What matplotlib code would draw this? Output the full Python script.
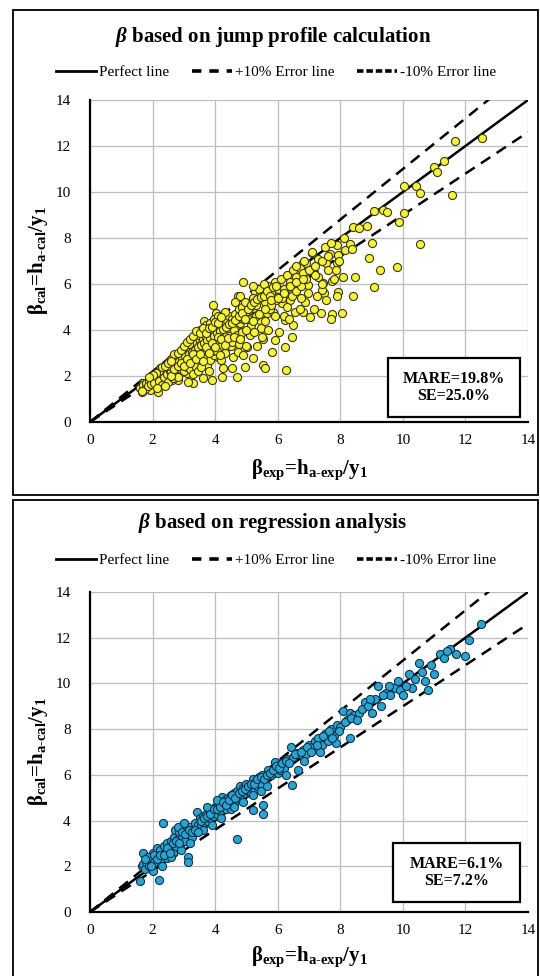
import matplotlib
matplotlib.use('Agg')
import matplotlib.pyplot as plt
from matplotlib.patches import Rectangle
import numpy as np

# ---------------------------------------------------------------------------
# data
# jump profile calculation (yellow)
beta_exp_jump = [12.52, 11.66, 11.31, 10.99, 11.08, 11.56, 10.04, 10.42, 10.55, 10.04,
                 9.89, 10.55, 9.08, 9.35, 9.50, 8.84, 8.42, 8.59, 9.00, 8.12,
                 8.31, 8.15, 8.38, 7.88, 7.67, 7.92, 7.54, 7.88, 7.86, 8.92,
                 9.27, 9.80, 8.08, 8.47, 9.08, 8.42, 7.92, 7.75, 7.46, 7.30,
                 8.04, 7.75, 7.37, 7.03, 6.82, 7.08, 6.82, 6.80, 6.98, 6.97,
                 6.87, 7.48, 7.40, 6.75,
                 4.88, 3.92, 4.03, 3.64, 5.27, 5.43, 4.74, 5.65, 5.86, 6.28,
                 6.50, 6.13, 6.39, 5.01, 5.22, 4.90, 5.17, 5.43, 5.65, 5.86,
                 6.23, 6.55, 5.54, 5.81, 6.23, 6.45, 5.91, 5.54, 5.59, 6.28,
                 4.69, 4.95, 4.53, 4.21, 3.89, 4.26, 3.62, 5.22, 5.01, 4.58,
                 4.10, 3.73, 3.30, 3.14, 2.82, 2.61, 2.40, 2.18, 1.92, 1.65,
                 1.70, 2.02, 2.24, 2.45, 2.72, 2.93, 3.09, 3.20, 3.41, 3.25,
                 3.52, 3.14, 2.88, 2.66, 2.98, 3.73, 3.94, 3.84, 4.15, 4.37,
                 4.53, 4.79, 5.11, 4.69, 4.42, 4.15, 4.37, 4.15, 4.74, 3.52,
                 3.36,
                 1.60, 1.70, 1.80, 1.90, 1.75, 2.00, 1.85, 1.95, 2.05, 1.65,
                 2.10, 2.20, 2.30, 2.40, 2.20, 2.35, 2.50, 2.45, 2.30, 2.15,
                 2.50, 2.40, 2.25, 2.55,
                 2.60, 2.70, 2.80, 2.90, 2.60, 2.75, 2.85, 2.95, 3.00, 2.65,
                 2.80, 2.90, 3.00, 2.70, 2.95, 2.60,
                 3.05, 3.10, 3.20, 3.30, 3.40, 3.15, 3.25, 3.35, 3.45, 3.50,
                 3.10, 3.20, 3.30, 3.40, 3.50, 3.35, 3.45, 3.25, 3.15, 3.50,
                 3.30, 3.45, 3.05,
                 3.60, 3.70, 3.80, 3.90, 3.60, 3.70, 3.80, 3.90, 4.00, 3.65,
                 3.75, 3.85, 3.95, 3.60, 3.70, 3.85, 3.95, 3.55, 3.80, 3.65,
                 3.75, 3.90, 4.00,
                 4.05, 4.15, 4.25, 4.35, 4.45, 4.10, 4.20, 4.30, 4.40, 4.50,
                 4.05, 4.20, 4.35, 4.45, 4.10, 4.30, 4.40, 4.25, 4.50, 4.15,
                 4.55, 4.65, 4.75, 4.85, 4.95, 4.60, 4.70, 4.80, 4.90, 5.00,
                 4.55, 4.75, 4.85, 4.65, 4.80, 4.90, 5.00, 4.70,
                 5.10, 5.20, 5.30, 5.40, 5.50, 5.60, 5.70, 5.80, 5.90, 6.00,
                 5.15, 5.30, 5.45, 5.60, 5.75, 5.90, 5.25, 5.50, 5.35, 5.70,
                 5.95, 5.05, 5.20, 5.55, 5.80,
                 6.10, 6.20, 6.30, 6.40, 6.50, 6.60, 6.70, 6.80, 6.90, 6.15,
                 6.30, 6.45, 6.60, 6.75, 6.90, 6.20, 6.50, 6.35, 6.70, 6.05,
                 6.60, 6.85,
                 7.10, 7.30, 7.50, 7.20, 7.40, 7.60, 7.70, 7.80, 7.95, 7.25,
                 7.55, 7.90, 7.15, 7.70]
beta_cal_jump = [12.33, 12.23, 11.35, 11.07, 10.86, 9.87, 10.26, 10.26, 9.94, 9.07,
                 8.68, 7.74, 9.16, 9.22, 9.14, 8.52, 8.46, 8.45, 7.80, 8.01,
                 7.74, 7.48, 7.51, 7.68, 7.30, 7.27, 6.93, 6.93, 6.61, 7.14,
                 6.61, 6.75, 6.32, 6.29, 5.88, 5.48, 5.65, 6.12, 6.03, 6.29,
                 4.75, 4.70, 4.75, 4.58, 4.80, 7.33, 6.90, 6.53, 5.96, 5.60,
                 5.23, 5.59, 5.75, 5.40,
                 6.09, 5.09, 4.72, 4.39, 5.67, 5.52, 5.48, 5.33, 5.74, 5.77,
                 5.88, 5.16, 5.30, 5.19, 4.94, 4.72, 4.51, 4.43, 4.72, 4.80,
                 4.43, 4.80, 3.59, 3.06, 3.27, 3.68, 3.57, 2.48, 2.33, 2.26,
                 1.97, 2.40, 2.33, 1.97, 1.83, 2.33, 1.90, 2.77, 3.27, 2.84,
                 2.84, 2.70, 1.68, 1.75, 1.83, 1.83, 1.61, 1.32, 1.39, 1.32,
                 1.68, 1.75, 1.90, 2.04, 2.12, 2.26, 2.12, 2.55, 2.84, 3.13,
                 3.27, 3.35, 2.70, 2.55, 2.91, 3.57, 3.86, 4.14, 4.07, 3.93,
                 3.64, 3.71, 3.78, 4.22, 4.36, 3.57, 3.27, 3.13, 3.06, 4.00,
                 3.78,
                 1.50, 1.60, 1.70, 1.80, 1.45, 1.90, 1.55, 1.65, 1.70, 1.35,
                 2.00, 2.10, 2.20, 2.30, 1.80, 1.95, 2.40, 2.10, 1.60, 1.50,
                 1.75, 1.55, 2.35, 2.20,
                 2.50, 2.60, 2.70, 2.80, 2.20, 2.35, 2.10, 2.50, 2.90, 1.90,
                 1.95, 2.30, 2.20, 2.85, 3.05, 2.00,
                 3.00, 3.20, 3.10, 3.30, 3.40, 2.70, 2.90, 2.60, 3.00, 3.50,
                 2.40, 2.30, 2.10, 2.40, 2.70, 3.60, 3.80, 3.50, 3.40, 3.20,
                 2.75, 2.20, 2.60,
                 3.60, 3.70, 3.80, 3.90, 3.20, 3.00, 3.40, 3.30, 3.60, 2.80,
                 2.50, 2.70, 2.90, 4.00, 4.20, 4.30, 4.50, 2.40, 2.20, 3.90,
                 3.50, 3.10, 4.10,
                 4.00, 4.20, 4.40, 4.50, 4.60, 3.50, 3.30, 3.00, 3.90, 4.20,
                 3.10, 2.70, 3.40, 3.60, 4.60, 4.80, 4.10, 3.80, 3.30, 2.90,
                 4.50, 4.70, 4.90, 5.00, 5.20, 4.00, 3.80, 4.30, 4.50, 4.80,
                 3.50, 3.40, 3.90, 5.20, 5.50, 2.90, 3.30, 4.50,
                 5.00, 5.40, 5.10, 5.80, 5.50, 5.20, 5.90, 5.60, 6.10, 5.80,
                 4.20, 4.60, 4.10, 4.40, 4.90, 4.60, 3.90, 3.70, 3.30, 4.00,
                 5.30, 4.50, 5.90, 6.00, 5.10,
                 6.20, 5.80, 6.40, 6.10, 6.60, 6.30, 6.70, 6.50, 6.90, 5.40,
                 5.00, 5.50, 5.70, 5.90, 6.20, 4.60, 4.20, 4.50, 4.90, 3.90,
                 6.80, 7.00,
                 7.40, 7.10, 7.60, 6.40, 6.00, 6.60, 7.80, 6.20, 7.00, 5.50,
                 5.30, 5.50, 4.90, 4.50]

# the packed part of the yellow cloud, near the perfect line
beta_exp_jump_dense = [2.55, 2.65, 2.75, 2.85, 2.95, 3.05, 3.15, 3.25, 3.35, 3.45,
                       3.55, 3.65, 3.75, 3.85, 3.95, 4.05, 4.15, 4.25, 4.35, 4.45,
                       2.60, 2.70, 2.80, 2.90, 3.00, 3.10, 3.20, 3.30, 3.40, 3.50,
                       3.60, 3.70, 3.80, 3.90, 4.00, 4.10, 4.20,
                       2.70, 2.80, 2.90, 3.00, 3.10, 3.20, 3.30, 3.40, 3.50, 3.60,
                       3.70, 3.80, 3.90, 4.00, 4.10, 4.20, 4.30, 4.40,
                       2.20, 2.30, 2.40, 2.50, 2.10, 2.00, 1.90, 2.60,
                       4.55, 4.65, 4.75, 4.85, 4.95, 5.05, 5.15, 5.25, 5.35, 5.45,
                       5.55, 5.65, 5.75, 5.85, 5.95,
                       4.60, 4.80, 5.00, 5.20, 5.40, 5.60, 5.80, 6.00, 6.20, 6.40,
                       6.60, 6.80, 7.00, 7.20, 7.40, 7.60]
beta_cal_jump_dense = [2.45, 2.55, 2.45, 2.65, 2.75, 2.85, 2.95, 3.05, 3.15, 3.25,
                       3.35, 3.45, 3.55, 3.65, 3.75, 3.85, 3.95, 4.05, 4.15, 4.25,
                       2.75, 2.95, 3.00, 3.15, 3.30, 3.50, 3.60, 3.75, 3.95, 3.85,
                       4.10, 3.85, 4.10, 4.15, 4.35, 4.30, 4.55,
                       2.30, 2.45, 2.55, 2.45, 2.75, 2.55, 2.95, 2.75, 2.95, 2.65,
                       3.25, 3.00, 3.45, 3.25, 3.70, 3.60, 3.35, 3.65,
                       2.20, 2.40, 2.45, 2.55, 2.15, 2.05, 1.95, 2.65,
                       4.30, 4.45, 4.60, 4.75, 4.50, 4.90, 5.10, 5.20, 5.35, 5.45,
                       5.50, 5.70, 5.50, 5.85, 5.90,
                       3.70, 3.60, 4.00, 4.40, 4.70, 4.90, 5.30, 5.40, 5.60, 5.90,
                       6.10, 6.20, 6.60, 6.80, 7.00, 7.20]

# regression analysis (blue)
beta_exp_reg = [1.60, 1.65, 1.70, 1.75, 1.80, 1.85, 1.90, 1.95, 2.00, 2.05,
                2.10, 2.15, 2.20, 2.25, 2.30, 2.35, 2.40, 2.45, 2.50, 2.20,
                2.34, 1.70, 1.86, 2.00, 2.30, 2.45,
                2.55, 2.60, 2.65, 2.70, 2.72, 2.75, 2.80, 2.85, 2.90, 2.95,
                3.00, 3.05, 3.09, 3.10, 3.14, 3.14, 3.20, 3.25, 3.30, 3.35,
                3.41, 3.40, 3.45, 3.50, 2.60, 2.90, 3.20, 3.50, 2.80, 3.00,
                3.55, 3.60, 3.65, 3.70, 3.75, 3.80, 3.85, 3.90, 3.95, 4.00,
                4.05, 4.10, 4.15, 4.21, 4.25, 4.30, 4.35, 4.40, 4.45, 4.50,
                3.60, 3.90, 4.20, 4.50, 3.75, 4.05,
                4.55, 4.60, 4.65, 4.69, 4.70, 4.75, 4.79, 4.80, 4.85, 4.90,
                4.95, 5.00, 5.05, 5.10, 5.15, 5.22, 5.20, 5.25, 5.30, 5.35,
                5.40, 5.45, 5.50, 5.54, 5.54, 4.60, 4.90, 5.20, 5.45,
                5.60, 5.70, 5.80, 5.91, 5.90, 6.00, 6.07, 6.10, 6.20, 6.30,
                6.41, 6.45, 6.50, 6.61, 6.66, 6.70, 6.80, 6.90, 7.00, 5.65,
                6.25, 6.85,
                7.10, 7.20, 7.30, 7.40, 7.50, 7.60, 7.70, 7.80, 7.90, 8.00,
                8.10, 8.20, 8.30, 8.30, 8.45, 8.60, 8.70, 8.80, 8.90, 9.00,
                7.35, 7.85,
                9.10, 9.30, 9.45, 9.60, 9.75, 9.90, 10.00, 10.20, 10.30, 10.60,
                10.70, 10.80, 11.00, 11.20, 11.30, 11.50, 11.70, 12.00, 12.10, 12.50,
                9.20, 10.50,
                1.75, 1.95, 2.05, 2.15, 2.25, 2.35, 2.45, 2.55, 2.65, 2.75,
                2.85, 2.95, 3.05, 3.15, 3.25, 3.35, 3.45, 3.55, 3.65, 3.75,
                3.85, 3.95, 4.05, 4.15, 4.25, 4.35, 4.45, 4.55, 4.65, 4.75,
                4.85, 4.95, 5.05, 5.15, 5.25, 5.35, 5.45, 5.55, 5.65, 5.75,
                5.85, 5.95, 6.05, 6.15, 6.25, 6.35, 6.55, 6.75, 6.95, 7.05,
                7.25, 7.45, 7.65, 7.75, 7.95, 8.15, 8.35, 8.55, 8.95, 9.35,
                9.55, 9.85, 10.10, 10.40, 10.90, 11.40]
beta_cal_reg = [1.35, 2.00, 2.10, 1.90, 2.20, 2.40, 2.00, 2.30, 2.60, 2.20,
                2.50, 2.80, 2.40, 2.70, 2.30, 2.90, 2.60, 3.00, 2.70, 1.40,
                3.91, 2.59, 2.42, 1.80, 2.00, 2.35,
                2.90, 3.10, 2.60, 3.30, 3.59, 2.90, 3.20, 3.50, 3.00, 3.30,
                3.60, 3.10, 3.73, 3.40, 2.42, 2.20, 3.70, 3.30, 3.60, 3.90,
                4.39, 3.50, 3.80, 4.10, 2.40, 2.70, 3.00, 3.60, 3.70, 3.90,
                3.80, 4.20, 3.90, 4.30, 4.00, 4.50, 4.10, 4.40, 4.20, 4.60,
                4.30, 4.70, 4.40, 5.04, 4.60, 4.90, 4.50, 5.00, 4.70, 5.10,
                3.60, 3.80, 4.10, 4.50, 4.60, 4.90,
                4.90, 5.20, 4.80, 3.18, 5.30, 5.00, 5.26, 5.50, 5.10, 5.41,
                5.20, 5.60, 5.30, 5.50, 5.20, 4.46, 5.80, 5.40, 5.70, 5.50,
                5.90, 5.60, 6.00, 4.68, 4.29, 4.60, 4.80, 5.10, 5.30,
                5.80, 6.20, 6.00, 6.58, 6.30, 6.10, 6.21, 6.50, 6.30, 6.70,
                7.23, 5.56, 6.80, 6.94, 6.21, 6.90, 7.10, 6.90, 7.30, 5.50,
                6.00, 6.60,
                7.20, 7.50, 7.60, 7.30, 7.80, 7.50, 8.00, 7.70, 8.20, 8.10,
                8.80, 8.40, 8.70, 7.60, 8.60, 8.70, 8.90, 9.20, 9.00, 8.70,
                7.00, 7.40,
                9.30, 9.00, 9.60, 9.50, 9.80, 9.70, 9.50, 10.40, 9.80, 10.50,
                10.10, 9.70, 10.40, 11.30, 11.10, 11.50, 11.30, 11.20, 11.90, 12.60,
                9.90, 10.90,
                2.30, 2.00, 2.50, 2.30, 2.50, 2.50, 2.80, 2.60, 3.00, 3.10,
                3.00, 3.50, 3.40, 3.60, 3.50, 3.60, 3.50, 4.00, 4.10, 4.20,
                4.30, 4.50, 4.50, 4.60, 4.80, 4.70, 4.90, 5.10, 5.00, 5.20,
                5.30, 5.40, 5.50, 5.60, 5.60, 5.80, 5.90, 5.80, 6.00, 6.10,
                6.20, 6.40, 6.30, 6.50, 6.60, 6.50, 6.90, 7.00, 7.20, 7.00,
                7.30, 7.70, 7.90, 7.60, 7.90, 8.30, 8.50, 8.40, 9.30, 9.50,
                9.90, 10.10, 9.90, 10.20, 10.80, 11.40]

line_x = [0, 14]
ticks = [0, 2, 4, 6, 8, 10, 12, 14]

titles = [r'$\beta$ based on jump profile calculation', r'$\beta$ based on regression analysis']
stats = ['MARE=19.8%\nSE=25.0%', 'MARE=6.1%\nSE=7.2%']
xlabel = r'$\mathrm{\beta_{exp}}$=$\mathrm{h_{a\text{-}exp}/y_1}$'
ylabel = r'$\mathrm{\beta_{cal}}$=$\mathrm{h_{a\text{-}cal}/y_1}$'

# ---------------------------------------------------------------------------
plt.rcParams['font.family'] = 'Liberation Serif'
plt.rcParams['mathtext.fontset'] = 'custom'
plt.rcParams['mathtext.rm'] = 'Liberation Serif:bold'
plt.rcParams['mathtext.it'] = 'Liberation Serif:bold:italic'
plt.rcParams['mathtext.bf'] = 'Liberation Serif:bold'

W, H = 540, 976
fig = plt.figure(figsize=(5.4, 9.76), dpi=100)

def fx(px):
    return px / W

def fy(py):
    return 1 - py / H

panels = [
    dict(top=100, bot=422, frame=(10, 495), title_y=37, leg_y=72, xlab_y=470,
         x=beta_exp_jump + beta_exp_jump_dense, y=beta_cal_jump + beta_cal_jump_dense,
         face='#f7f23a', edge='#3a3a10', box=(388, 520, 358, 417)),
    dict(top=592, bot=912, frame=(500, 990), title_y=523, leg_y=560, xlab_y=957,
         x=beta_exp_reg, y=beta_cal_reg, face='#2ba3d3', edge='#0d3447',
         box=(393, 520, 843, 902)),
]

ax_l, ax_r = 90, 528

for i, p in enumerate(panels):
    # outer frame
    f0, f1 = p['frame']
    fig.patches.append(Rectangle((fx(13), fy(f1)), fx(538) - fx(13), (f1 - f0) / H,
                                 transform=fig.transFigure, fill=False,
                                 edgecolor='black', linewidth=1.3))

    ax = fig.add_axes([fx(ax_l), fy(p['bot']), fx(ax_r) - fx(ax_l),
                       (p['bot'] - p['top']) / H])
    ax.set_xlim(0, 14)
    ax.set_ylim(0, 14)
    ax.set_xticks(ticks)
    ax.set_yticks(ticks)
    ax.grid(True, color='#bdbdbd', linewidth=0.9)
    ax.set_axisbelow(True)
    for s in ['top', 'right']:
        ax.spines[s].set_visible(False)
    for s in ['left', 'bottom']:
        ax.spines[s].set_linewidth(1.6)
    ax.tick_params(length=0, labelsize=11, pad=9)
    ax.tick_params(axis='y', pad=14)

    ax.plot(line_x, line_x, color='black', lw=1.8, zorder=3)
    ax.plot(line_x, [v * 1.1 for v in line_x], color='black', lw=1.8,
            dashes=(4.5, 3.0), zorder=3)
    ax.plot(line_x, [v * 0.9 for v in line_x], color='black', lw=1.8,
            dashes=(4.5, 3.0), zorder=3)

    ax.scatter(p['x'], p['y'], s=34, c=p['face'], edgecolors=p['edge'],
               linewidths=0.8, zorder=4)

    # legend handles with the look of the original key
    h1, = ax.plot([], [], color='black', lw=2.0)
    h2, = ax.plot([], [], color='black', lw=2.6, dashes=(2.6, 2.2))
    h3, = ax.plot([], [], color='black', lw=2.6, dashes=(1.8, 0.8))
    fig.legend([h1, h2, h3], ['Perfect line', '+10% Error line', '-10% Error line'],
               loc='center', bbox_to_anchor=(fx(276), fy(p['leg_y'])), ncol=3,
               frameon=False, fontsize=11, handlelength=2.6, handletextpad=0.2,
               columnspacing=1.5)

    fig.text(fx(273), fy(p['title_y']), titles[i], ha='center', va='center',
             fontsize=15, fontweight='bold')

    fig.text(fx((ax_l + ax_r) / 2), fy(p['xlab_y']), xlabel, ha='center',
             va='center', fontsize=15, fontweight='bold')
    fig.text(fx(38), fy((p['top'] + p['bot']) / 2), ylabel, ha='center',
             va='center', fontsize=15, fontweight='bold', rotation=90)

    # stats box
    bx0, bx1, by0, by1 = p['box']
    ax.add_patch(Rectangle(((bx0 - ax_l) / (ax_r - ax_l), (p['bot'] - by1) / (p['bot'] - p['top'])),
                           (bx1 - bx0) / (ax_r - ax_l), (by1 - by0) / (p['bot'] - p['top']),
                           transform=ax.transAxes, facecolor='white',
                           edgecolor='black', linewidth=1.6, zorder=5))
    ax.text(((bx0 + bx1) / 2 - ax_l) / (ax_r - ax_l),
            (p['bot'] - (by0 + by1) / 2) / (p['bot'] - p['top']),
            stats[i], transform=ax.transAxes, ha='center', va='center',
            fontsize=11.5, fontweight='bold', linespacing=1.1, zorder=6)

plt.savefig('out.png', dpi=100)
